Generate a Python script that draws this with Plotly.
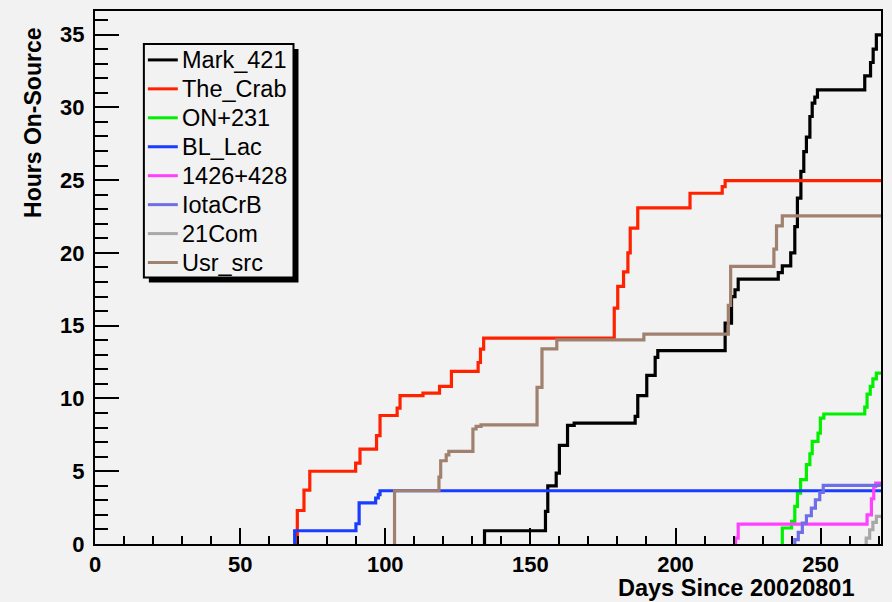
import plotly.graph_objects as go

# ---- data (days since 20020801, cumulative hours on-source) ----
END_DAY = 271.0

mark421_days = [134.2, 134.2, 155.2, 156.0, 158.9, 160.0, 162.8, 165.1, 186.1, 187.0, 190.1, 193.0, 193.9,
                217.1, 219.3, 220.5, 221.6, 235.4, 236.8, 239.7, 241.1, 242.0, 243.2, 244.2, 245.1,
                246.3, 247.1, 248.0, 248.9, 265.2, 267.2, 268.1, 269.2, END_DAY]
mark421_hours = [0, 0.91, 2.24, 4.0, 4.87, 6.77, 8.15, 8.31, 8.77, 10.19, 11.58, 12.82, 13.28,
                 15.18, 17.0, 17.47, 18.2, 18.65, 19.11, 20.0, 21.8, 23.76, 25.6, 26.96, 27.95,
                 29.37, 30.29, 30.7, 31.2, 32.16, 33.08, 34.0, 34.98, 34.98]

crab_days = [69.7, 69.7, 72.0, 74.0, 89.8, 91.3, 97.0, 98.2, 104.1, 105.1, 113.0, 118.7, 122.8, 132.0,
             132.8, 133.9, 178.9, 180.1, 182.1, 183.6, 184.4, 187.0, 205.0, 216.1, 217.1, END_DAY]
crab_hours = [0, 2.3, 3.7, 5.0, 5.56, 6.52, 7.44, 8.83, 9.34, 10.2, 10.37, 10.83, 11.86, 12.47,
              13.39, 14.15, 16.2, 17.7, 18.7, 20.0, 21.7, 23.1, 24.1, 24.56, 24.97, 24.97]

on231_days = [236.8, 236.8, 240.0, 241.1, 242.0, 243.1, 245.1, 246.3, 247.1, 249.1, 249.9, 251.1,
              265.2, 266.0, 267.1, 268.0, 269.2, END_DAY]
on231_hours = [0, 1.1, 1.55, 2.58, 3.5, 4.42, 5.45, 6.2, 7.05, 7.62, 8.65, 8.93,
               9.4, 10.3, 10.83, 11.35, 11.74, 11.74]

bllac_days = [68.8, 68.8, 89.9, 91.0, 96.7, 97.6, 98.2, END_DAY]
bllac_hours = [0, 0.91, 1.39, 2.82, 3.16, 3.39, 3.66, 3.66]

s1426_days = [220.7, 220.7, 221.6, 266.0, 267.5, 268.3, 269.0, END_DAY]
s1426_hours = [0, 0.41, 1.37, 2.0, 3.11, 3.96, 4.19, 4.19]

iota_days = [241.1, 241.1, 242.3, 243.7, 245.1, 246.8, 248.2, 249.7, 250.9, END_DAY]
iota_hours = [0, 0.3, 0.8, 1.44, 1.94, 2.47, 3.04, 3.54, 4.03, 4.03]

com21_days = [265.7, 265.7, 266.9, 268.0, 269.2, END_DAY]
com21_hours = [0, 0.41, 0.98, 1.48, 1.9, 1.9]

usr_days = [103.2, 103.2, 118.5, 119.1, 121.0, 121.9, 130.2, 131.3, 133.0, 152.3, 154.0, 159.1,
            189.1, 218.2, 219.0, 233.9, 234.8, 236.8, END_DAY]
usr_hours = [0, 3.66, 4.6, 5.72, 6.13, 6.36, 7.9, 8.08, 8.19, 10.76, 13.41, 14.03,
             14.42, 16.4, 19.07, 20.26, 21.86, 22.55, 22.55]

series_names = ["Mark_421", "The_Crab", "ON+231", "BL_Lac", "1426+428", "IotaCrB", "21Com", "Usr_src"]
series_days = [mark421_days, crab_days, on231_days, bllac_days, s1426_days, iota_days, com21_days, usr_days]
series_hours = [mark421_hours, crab_hours, on231_hours, bllac_hours, s1426_hours, iota_hours, com21_hours, usr_hours]
series_colors = ["#000000", "#ff2200", "#00f000", "#1a3cff", "#ff40ff", "#6e6ee6", "#a8a8a8", "#a0806e"]

X_RANGE = [0, 270.8]
Y_RANGE = [0, 36.62]

BG = "#f2f2f2"
FONT = "Liberation Sans, Arial, Helvetica, sans-serif"

fig = go.Figure()
for name, xs, ys, col in zip(series_names, series_days, series_hours, series_colors):
    fig.add_trace(go.Scatter(x=xs, y=ys, mode="lines", name=name, showlegend=False,
                             line=dict(color=col, width=3.2, shape="hv")))

W, H = 892, 602
ML, MR, MT, MB = 95, 9, 10, 58
pw, ph = W - ML - MR, H - MT - MB

def pxx(px):
    return (px - ML) / pw

def pxy(py):
    return (H - MB - py) / ph

# ---- legend (box with drop shadow, line samples, labels) ----
LEG_L, LEG_T, LEG_R, LEG_B = 144, 43, 294, 277
SH = 5
fig.add_shape(type="rect", xref="paper", yref="paper",
              x0=pxx(LEG_L + SH), y0=pxy(LEG_B + SH), x1=pxx(LEG_R + SH), y1=pxy(LEG_T + SH),
              fillcolor="black", line=dict(width=0), layer="above")
fig.add_shape(type="rect", xref="paper", yref="paper",
              x0=pxx(LEG_L), y0=pxy(LEG_B), x1=pxx(LEG_R), y1=pxy(LEG_T),
              fillcolor=BG, line=dict(color="black", width=2), layer="above")
ROW0, ROWH = 59.0, 29.0
for i, (name, col) in enumerate(zip(series_names, series_colors)):
    yc = ROW0 + i * ROWH
    fig.add_shape(type="line", xref="paper", yref="paper",
                  x0=pxx(148), x1=pxx(178), y0=pxy(yc), y1=pxy(yc),
                  line=dict(color=col, width=3), layer="above")
    fig.add_annotation(text=name, xref="paper", yref="paper", x=pxx(180), y=pxy(yc),
                       xanchor="left", yanchor="middle", showarrow=False,
                       font=dict(family=FONT, size=23.5, color="black"))

axis_common = dict(showline=True, linecolor="black", linewidth=2, mirror=True,
                   ticks="inside", tickcolor="black", tickwidth=2,
                   showgrid=False, zeroline=False,
                   tickfont=dict(family=FONT, size=22, color="black", weight="bold"))

fig.update_xaxes(range=X_RANGE, dtick=50, tick0=0, ticklen=16,
                 minor=dict(dtick=10, ticks="inside", ticklen=8, tickwidth=2, tickcolor="black"),
                 **axis_common)
fig.update_yaxes(range=Y_RANGE, dtick=5, tick0=0, ticklen=24,
                 minor=dict(dtick=1, ticks="inside", ticklen=13, tickwidth=2, tickcolor="black"),
                 ticklabelstandoff=4,
                 **axis_common)

fig.add_annotation(text="Days Since 20020801", xref="paper", yref="paper",
                   x=pxx(859), y=pxy(588), xanchor="right", yanchor="middle",
                   showarrow=False, font=dict(family=FONT, size=23.5, color="black", weight="bold"))
fig.add_annotation(text="Hours On-Source", xref="paper", yref="paper",
                   x=pxx(33), y=pxy(122), xanchor="center", yanchor="middle",
                   textangle=-90, showarrow=False,
                   font=dict(family=FONT, size=23, color="black", weight="bold"))

fig.update_layout(
    width=W, height=H,
    margin=dict(l=ML, r=MR, t=MT, b=MB),
    paper_bgcolor=BG, plot_bgcolor=BG,
    showlegend=False,
)

fig.write_html("out.html")
